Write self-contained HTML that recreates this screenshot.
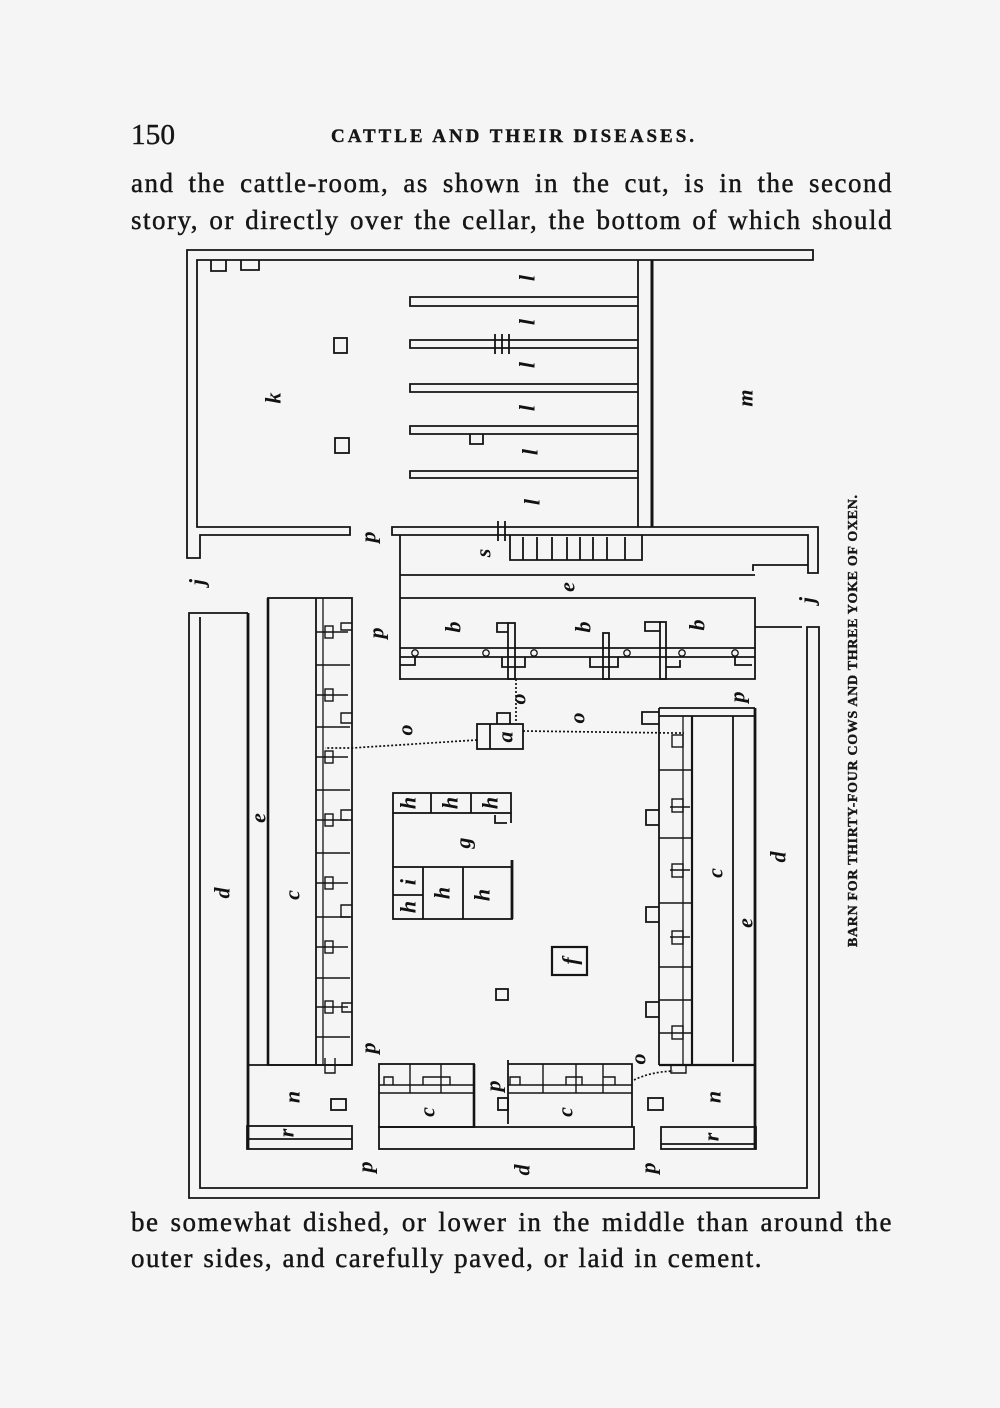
<!DOCTYPE html>
<html><head><meta charset="utf-8">
<style>
html,body{margin:0;padding:0;background:#f5f5f5;}
body{position:relative;width:1000px;height:1408px;overflow:hidden}
svg{display:block;position:absolute;left:0;top:0}
.t{font-family:"Liberation Serif",serif;fill:#161616;stroke:#161616;stroke-width:0.4}
.l{font-family:"Liberation Serif",serif;font-style:italic;font-weight:bold;font-size:22px;fill:#111;text-anchor:middle;dominant-baseline:central}
.p{position:absolute;left:131px;width:762px;font-family:"Liberation Serif",serif;font-size:27px;line-height:27px;height:27px;color:#161616;text-align:justify;text-align-last:justify;white-space:nowrap;letter-spacing:1.5px;-webkit-text-stroke:0.45px #161616;overflow:visible}
</style></head><body>
<svg width="1000" height="1408" viewBox="0 0 1000 1408" xmlns="http://www.w3.org/2000/svg">
<rect width="1000" height="1408" fill="#f5f5f5"/>

<!-- header -->
<text class="t" x="131" y="144" font-size="28" textLength="44" lengthAdjust="spacingAndGlyphs">150</text>
<text class="t" x="331" y="142" font-size="19" font-weight="bold" textLength="363" lengthAdjust="spacing">CATTLE AND THEIR DISEASES.</text>
<text class="t" transform="translate(857,947) rotate(-90)" font-size="14" font-weight="bold" textLength="452" lengthAdjust="spacing">BARN FOR THIRTY-FOUR COWS AND THREE YOKE OF OXEN.</text>

<g stroke="#141414" fill="none" stroke-width="1.8">
<!-- upper walls -->
<path d="M187,250 H813 V260 H197 V527 H350 V535 H200 V558 H187 Z"/>
<path d="M392,527 H818 V573 H808 V535 H392 Z"/>
<line x1="400" y1="535" x2="400" y2="680"/>
<line x1="638" y1="260" x2="638" y2="527"/>
<line x1="652" y1="260" x2="652" y2="527" stroke-width="3"/>
<path d="M211,260 V271 H226 V260"/>
<path d="M241,260 V270 H259 V260"/>
<path d="M638,297 H410 V306 H638"/>
<path d="M638,340 H410 V348 H638"/>
<path d="M638,384 H410 V392 H638"/>
<path d="M638,426 H410 V434 H638"/>
<path d="M638,471 H410 V478 H638"/>
<path d="M495,334 V354 M502,334 V354 M509,334 V354"/>
<path d="M470,434 V444 H483 V434"/>
<rect x="334" y="338" width="13" height="15"/>
<rect x="335" y="438" width="14" height="15"/>
<path d="M498,521 V541 M505,521 V541"/>
<path d="M510,535 V560 H642 V535"/>
<path d="M523,537 V560 M537,537 V560 M552,537 V560 M567,537 V560 M580,537 V560 M593,537 V560 M607,537 V560 M625,537 V560"/>
<path d="M753,571 V565 H808"/>
<line x1="400" y1="575" x2="755" y2="575"/>
<path d="M400,598 H755 V679 H400"/>
<line x1="400" y1="648" x2="755" y2="648"/>
<line x1="400" y1="657" x2="755" y2="657"/>
<g stroke-width="1.3">
<circle cx="415" cy="653" r="3.2"/><circle cx="486" cy="653" r="3.2"/><circle cx="534" cy="653" r="3.2"/>
<circle cx="627" cy="653" r="3.2"/><circle cx="682" cy="653" r="3.2"/><circle cx="735" cy="653" r="3.2"/>
</g>
<rect x="508" y="623" width="7" height="56"/>
<path d="M508,623 H497 V632 H508"/>
<path d="M502,657 V667 H525 V657"/>
<rect x="603" y="633" width="6" height="46"/>
<path d="M590,657 V667 H618 V657"/>
<rect x="660" y="622" width="6" height="57"/>
<path d="M660,622 H645 V631 H660"/>
<path d="M666,667 H680 V660"/>
<path d="M400,665 H415 V657"/>
<path d="M735,657 V665 H752"/>
<line x1="755" y1="627" x2="802" y2="627"/>

<!-- outer lower walls -->
<path d="M248,613 H189 V1198 H819 V627 H807 V1188 H200 V617"/>
<line x1="248" y1="613" x2="248" y2="1149" stroke-width="2.8"/>

<!-- left stall block -->
<rect x="268" y="598" width="84" height="467"/>
<line x1="268" y1="598" x2="268" y2="1065" stroke-width="2.6"/>
<line x1="316" y1="598" x2="316" y2="1065"/>
<line x1="323" y1="598" x2="323" y2="1065" stroke-width="1.3"/>
<path d="M316,632 H348 M316,665 H350 M316,695 H348 M316,727 H350 M316,757 H348 M316,790 H350 M316,820 H348 M316,853 H350 M316,883 H348 M316,917 H350 M316,947 H348 M316,978 H350 M316,1007 H348 M316,1037 H350" stroke-width="1.4"/>
<g stroke-width="1.4">
<rect x="325" y="626" width="8" height="12"/><rect x="325" y="689" width="8" height="12"/>
<rect x="325" y="751" width="8" height="12"/><rect x="325" y="814" width="8" height="12"/>
<rect x="325" y="877" width="8" height="12"/><rect x="325" y="941" width="8" height="12"/>
<rect x="325" y="1001" width="8" height="12"/>
<path d="M352,623 H341 V630 H352 M352,713 H341 V723 H352 M352,810 H341 V820 H352 M352,905 H341 V917 H352 M352,1003 H342 V1012 H352"/>
</g>
<line x1="248" y1="1065" x2="352" y2="1065"/>
<path d="M325,1058 V1073 H335 V1058" stroke-width="1.4"/>
<rect x="247" y="1126" width="105" height="23"/>
<line x1="247" y1="1139" x2="352" y2="1139"/>
<rect x="331" y="1099" width="15" height="11"/>

<!-- middle bottom blocks -->
<rect x="379" y="1064" width="95" height="63"/>
<line x1="474" y1="1064" x2="474" y2="1127" stroke-width="2.6"/>
<rect x="379" y="1127" width="255" height="22"/>
<path d="M379,1085 H474 M379,1093 H474 M410,1064 V1093 M441,1064 V1093" stroke-width="1.4"/>
<path d="M384,1085 V1077 H393 V1085 M423,1085 V1077 H441 M441,1077 H450 V1085" stroke-width="1.4"/>
<path d="M508,1060 V1124 M508,1064 H632 V1127" />
<path d="M508,1085 H632 M508,1093 H632 M543,1064 V1093 M576,1064 V1093 M603,1064 V1093" stroke-width="1.4"/>
<path d="M510,1085 V1077 H520 V1085 M566,1085 V1077 H582 V1085 M603,1077 H615 V1085" stroke-width="1.4"/>
<rect x="498" y="1098" width="10" height="12"/>

<!-- right stall block -->
<path d="M659,708 H755 M659,716 H755"/>
<line x1="659" y1="708" x2="659" y2="1065"/>
<line x1="683" y1="716" x2="683" y2="1065" stroke-width="1.3"/>
<line x1="692" y1="716" x2="692" y2="1065" stroke-width="2.2"/>
<line x1="733" y1="716" x2="733" y2="1062"/>
<line x1="755" y1="708" x2="755" y2="1149" stroke-width="2.8"/>
<line x1="659" y1="1065" x2="755" y2="1065" stroke-width="2.2"/>
<path d="M659,712 H642 V724 H659"/>
<path d="M659,770 H692 M659,838 H692 M659,903 H692 M659,967 H692 M659,1000 H692 M659,1033 H692 M670,807 H690 M670,870 H690 M670,937 H690" stroke-width="1.4"/>
<g stroke-width="1.4">
<rect x="672" y="735" width="11" height="12"/><rect x="672" y="799" width="11" height="13"/>
<rect x="672" y="864" width="11" height="13"/><rect x="672" y="931" width="11" height="13"/>
<rect x="672" y="1026" width="11" height="13"/>
</g>
<path d="M659,810 H646 V825 H659 M659,907 H646 V922 H659 M659,1002 H646 V1017 H659"/>
<path d="M671,1065 V1073 H686 V1065" stroke-width="1.4"/>
<rect x="661" y="1127" width="95" height="22"/>
<line x1="661" y1="1144" x2="756" y2="1144"/>
<rect x="648" y="1098" width="15" height="12"/>

<!-- center g/h block -->
<rect x="393" y="793" width="118" height="20"/>
<path d="M431,793 V813 M471,793 V813"/>
<line x1="393" y1="813" x2="393" y2="867"/>
<path d="M511,813 V823 M495,815 V823 H507"/>
<rect x="393" y="867" width="119" height="52"/>
<line x1="512" y1="860" x2="512" y2="919" stroke-width="2.8"/>
<path d="M423,867 V919 M463,867 V919 M393,895 H423"/>
<rect x="552" y="947" width="35" height="28" stroke-width="2.2"/>
<rect x="496" y="989" width="12" height="11"/>

<!-- a box -->
<rect x="477" y="724" width="46" height="25"/>
<line x1="490" y1="724" x2="490" y2="749"/>
<path d="M497,724 V713 H510 V724"/>
</g>

<!-- dotted lines -->
<g stroke="#141414" fill="none" stroke-width="1.7" stroke-dasharray="2 2">
<path d="M516,679 V722"/>
<path d="M477,740 L352,748 H325"/>
<path d="M523,731 L673,733 H684"/>
<path d="M634,1080 Q650,1072 673,1071"/>
</g>

<!-- labels -->
<g>
<text class="l" transform="translate(273,398) rotate(-90)" font-size="26">k</text>
<text class="l" transform="translate(745,398) rotate(-90)" font-size="28">m</text>
<text class="l" transform="translate(527,278) rotate(-90)">l</text>
<text class="l" transform="translate(527,322) rotate(-90)">l</text>
<text class="l" transform="translate(527,365) rotate(-90)">l</text>
<text class="l" transform="translate(527,408) rotate(-90)">l</text>
<text class="l" transform="translate(530,452) rotate(-90)">l</text>
<text class="l" transform="translate(532,502) rotate(-90)">l</text>
<text class="l" transform="translate(368,537) rotate(-90)">p</text>
<text class="l" transform="translate(483,553) rotate(-90)">s</text>
<text class="l" transform="translate(197,582) rotate(-90)">j</text>
<text class="l" transform="translate(807,600) rotate(-90)">j</text>
<text class="l" transform="translate(567,587) rotate(-90)">e</text>
<text class="l" transform="translate(453,627) rotate(-90)">b</text>
<text class="l" transform="translate(583,627) rotate(-90)">b</text>
<text class="l" transform="translate(697,625) rotate(-90)">b</text>
<text class="l" transform="translate(376,633) rotate(-90)">p</text>
<text class="l" transform="translate(737,697) rotate(-90)">p</text>
<text class="l" transform="translate(405,730) rotate(-90)">o</text>
<text class="l" transform="translate(518,699) rotate(-90)">o</text>
<text class="l" transform="translate(577,718) rotate(-90)">o</text>
<text class="l" transform="translate(505,737) rotate(-90)">a</text>
<text class="l" transform="translate(408,803) rotate(-90)" font-size="19">h</text>
<text class="l" transform="translate(450,803) rotate(-90)" font-size="19">h</text>
<text class="l" transform="translate(490,803) rotate(-90)" font-size="19">h</text>
<text class="l" transform="translate(463,843) rotate(-90)">g</text>
<text class="l" transform="translate(408,882) rotate(-90)" font-size="17">i</text>
<text class="l" transform="translate(408,907) rotate(-90)" font-size="19">h</text>
<text class="l" transform="translate(442,893) rotate(-90)">h</text>
<text class="l" transform="translate(482,895) rotate(-90)">h</text>
<text class="l" transform="translate(570,961) rotate(-90)">f</text>
<text class="l" transform="translate(258,818) rotate(-90)">e</text>
<text class="l" transform="translate(292,895) rotate(-90)">c</text>
<text class="l" transform="translate(222,893) rotate(-90)">d</text>
<text class="l" transform="translate(715,873) rotate(-90)">c</text>
<text class="l" transform="translate(745,923) rotate(-90)">e</text>
<text class="l" transform="translate(778,857) rotate(-90)">d</text>
<text class="l" transform="translate(368,1048) rotate(-90)">p</text>
<text class="l" transform="translate(638,1059) rotate(-90)">o</text>
<text class="l" transform="translate(292,1097) rotate(-90)">n</text>
<text class="l" transform="translate(286,1133) rotate(-90)" font-size="18">r</text>
<text class="l" transform="translate(427,1112) rotate(-90)">c</text>
<text class="l" transform="translate(493,1086) rotate(-90)">p</text>
<text class="l" transform="translate(565,1112) rotate(-90)">c</text>
<text class="l" transform="translate(713,1097) rotate(-90)">n</text>
<text class="l" transform="translate(711,1137) rotate(-90)" font-size="18">r</text>
<text class="l" transform="translate(365,1167) rotate(-90)">p</text>
<text class="l" transform="translate(522,1170) rotate(-90)">d</text>
<text class="l" transform="translate(648,1168) rotate(-90)">p</text>
</g>
</svg>

<div class="p" style="top:170px">and the cattle-room, as shown in the cut, is in the second</div>
<div class="p" style="top:207px">story, or directly over the cellar, the bottom of which should</div>
<div class="p" style="top:1209px">be somewhat dished, or lower in the middle than around the</div>
<div class="p" style="top:1245px;width:632px">outer sides, and carefully paved, or laid in cement.</div>
</body></html>
